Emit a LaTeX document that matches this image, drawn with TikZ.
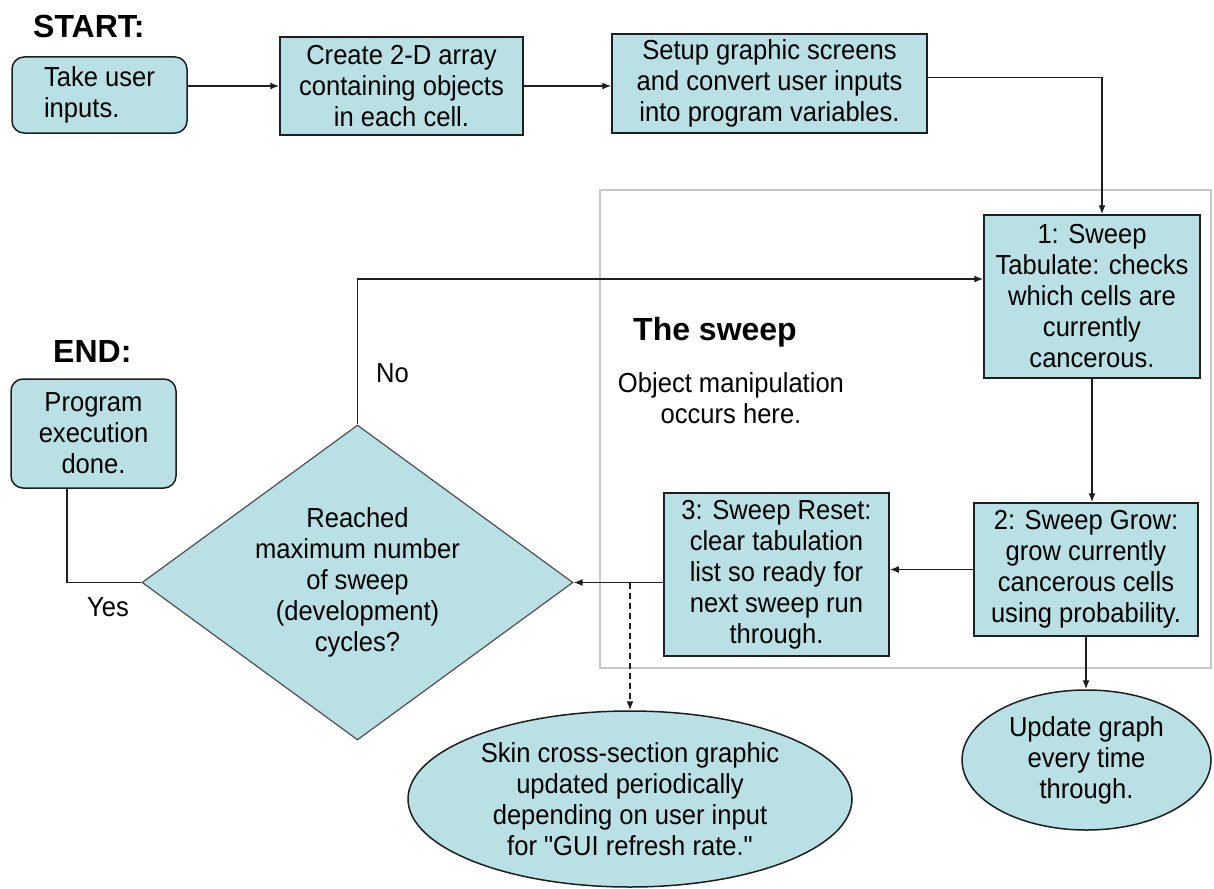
\documentclass[tikz,border=0pt]{standalone}
\usepackage{fontspec}
\setmainfont{Liberation Sans}[FakeStretch=0.93, Ligatures=TeXOff]
\newfontfamily\headfont{Liberation Sans}
\usetikzlibrary{arrows.meta,shapes.geometric}
\definecolor{boxfill}{RGB}{185,224,228}
\definecolor{edgecol}{RGB}{30,30,30}
\definecolor{diaedge}{RGB}{80,80,80}
\definecolor{framegray}{RGB}{200,200,200}
\newcommand{\txtfont}{\fontsize{27.5}{31}\selectfont}
\newcommand{\headsize}{\headfont\bfseries\fontsize{32}{36}\selectfont}
\begin{document}
\begin{tikzpicture}[x=1pt,y=-1pt,
  box/.style={draw=edgecol, line width=1.5pt, fill=boxfill, inner sep=0pt, align=center, font=\txtfont},
  rbox/.style={box, rounded corners=12pt},
  ell/.style={ellipse, draw=edgecol, line width=1.5pt, fill=boxfill, inner sep=0pt, align=center, font=\txtfont},
  arr/.style={draw=edgecol, line width=1.4pt, -{Latex[length=9pt,width=7pt]}},
  conn/.style={draw=edgecol, line width=1.4pt},
  dasharr/.style={arr, dash pattern=on 6pt off 4pt},
  lbl/.style={inner sep=0pt, font=\txtfont},
  head/.style={inner sep=0pt, font=\headsize}]
\useasboundingbox (0,0) rectangle (1214,888);
\fill[white] (0,0) rectangle (1214,888);

% frame of the sweep
\draw[framegray, line width=1.5pt] (600,190) rectangle (1211,668);

% headings and labels
\node[head, anchor=base west] (start) at (33,38) {START:};
\node[head, anchor=base west] (endl) at (53,362) {END:};
\node[head, anchor=base west] (sweep) at (633,340) {The sweep};
\node[lbl, align=center, anchor=base] (objm) at (731,423) {Object manipulation\\occurs here.};
\node[lbl, anchor=base west] (nol) at (376,382) {No};
\node[lbl, anchor=base west] (yesl) at (87,616) {Yes};

% boxes
\node[rbox, align=left, minimum width=175pt, minimum height=76pt] (take) at (99.5,95) {Take user\\inputs.};
\node[box, minimum width=243pt, minimum height=98pt] (create) at (401.5,86) {Create 2-D array\\containing objects\\in each cell.};
\node[box, minimum width=315pt, minimum height=99pt] (setup) at (769.5,83.5) {Setup graphic screens\\and convert user inputs\\into program variables.};
\node[box, minimum width=216pt, minimum height=163pt] (tab) at (1092,296.5) {1: Sweep\\Tabulate: checks\\which cells are\\currently\\cancerous.};
\node[box, minimum width=224pt, minimum height=133pt] (grow) at (1086,569.5) {2: Sweep Grow:\\grow currently\\cancerous cells\\using probability.};
\node[box, minimum width=225pt, minimum height=163pt] (reset) at (776.5,574.5) {3: Sweep Reset:\\clear tabulation\\list so ready for\\next sweep run\\through.};
\node[rbox, minimum width=165pt, minimum height=109pt] (prog) at (93.5,433.5) {Program\\execution\\done.};

% decision
\node[diamond, draw=diaedge, line width=1.2pt, fill=boxfill, inner sep=0pt, minimum width=431pt, minimum height=315pt] (dia) at (357.5,582.5) {};
\node[lbl, align=center] (diatext) at (dia.center) {Reached\\maximum number\\of sweep\\(development)\\cycles?};

% ellipses
\node[ell, minimum width=249pt, minimum height=140pt] (upd) at (1086.5,760) {Update graph\\every time\\through.};
\node[ell, minimum width=444pt, minimum height=176pt] (skin) at (630,799) {Skin cross-section graphic\\updated periodically\\depending on user input\\for "GUI refresh rate."};

% connectors
\draw[arr] (take.east |- create.west) -- (create.west);
\draw[arr] (create.east) -- (create.east -| setup.west);
\draw[arr] ([yshift=6pt]setup.east) -| ([xshift=10pt]tab.north);
\draw[arr] (tab.south) -- (tab.south |- grow.north);
\draw[arr] (grow.west) -- (grow.west -| reset.east);
\draw[arr] (dia.east -| reset.west) -- (dia.east);
\draw[dasharr] (skin.north |- dia.east) -- (skin.north);
\draw[arr] (grow.south) -- (grow.south |- upd.north);
\draw[arr] (dia.north) |- ([yshift=17.5pt]tab.west);
\draw[conn] ([xshift=-26.5pt]prog.south) |- (dia.west);
\end{tikzpicture}
\end{document}
